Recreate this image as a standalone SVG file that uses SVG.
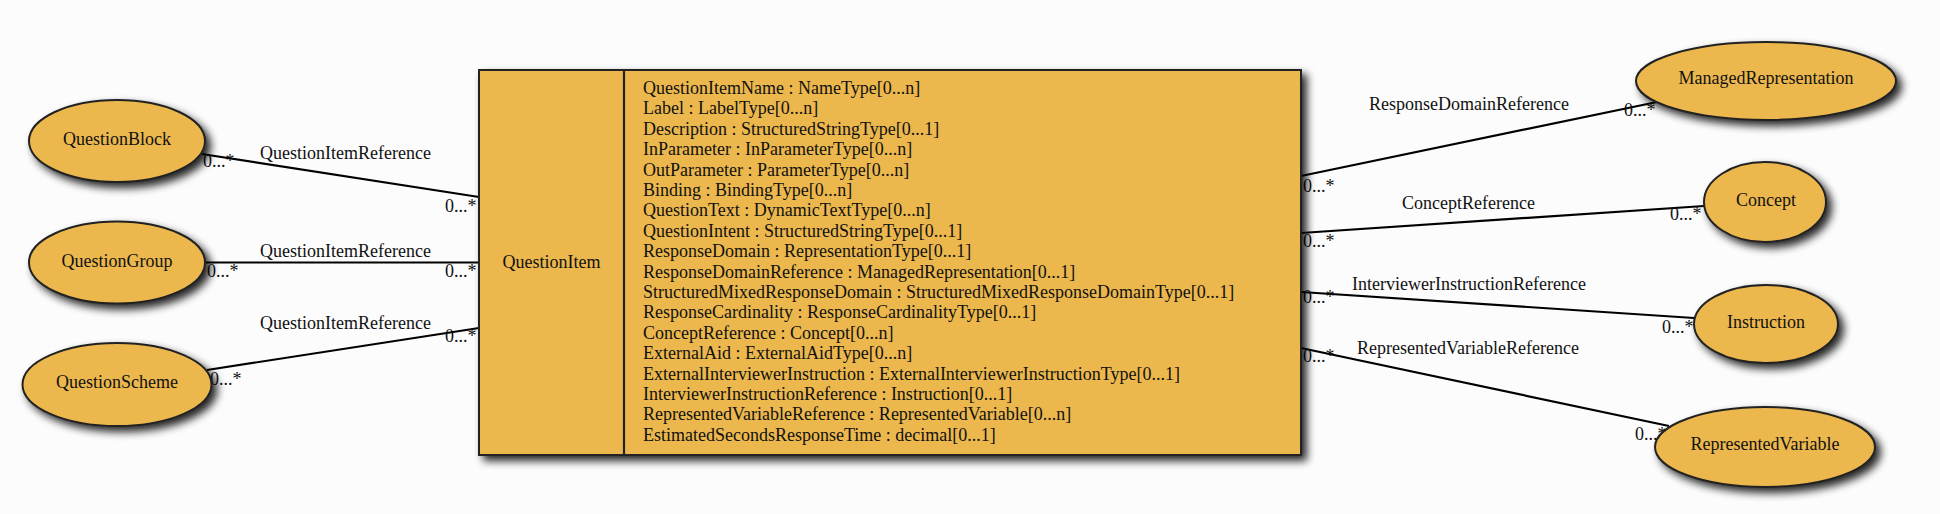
<svg xmlns="http://www.w3.org/2000/svg" width="1940" height="514" viewBox="0 0 1940 514">
<defs>
<filter id="sh" x="-20%" y="-30%" width="150%" height="170%">
<feGaussianBlur in="SourceAlpha" stdDeviation="4.5"/>
<feOffset dx="5" dy="5" result="b"/>
<feComponentTransfer><feFuncA type="linear" slope="0.85"/></feComponentTransfer>
<feMerge><feMergeNode/><feMergeNode in="SourceGraphic"/></feMerge>
</filter>
</defs>
<style>
.n{fill:#ECB84E;stroke:#222;stroke-width:2}
.t{font-family:"Liberation Serif","Times New Roman",serif;font-size:18px;fill:#111}
.c{text-anchor:middle}
.e{stroke:#000;stroke-width:2.2;fill:none}
</style>
<rect width="1940" height="514" fill="#FCFCFC"/>
<g id="connectors">
<line class="e" x1="202" y1="154" x2="479" y2="197"/>
<line class="e" x1="205" y1="262.5" x2="479" y2="262.5"/>
<line class="e" x1="207" y1="370" x2="479" y2="328"/>
<line class="e" x1="1301" y1="176" x2="1657" y2="102"/>
<line class="e" x1="1301" y1="233" x2="1704" y2="206"/>
<line class="e" x1="1301" y1="292" x2="1694" y2="318"/>
<line class="e" x1="1301" y1="348" x2="1669" y2="426"/>
<text class="t" x="260" y="159">QuestionItemReference</text>
<text class="t" x="203" y="167">0...*</text>
<text class="t" x="445" y="212">0...*</text>
<text class="t" x="260" y="257">QuestionItemReference</text>
<text class="t" x="207" y="277">0...*</text>
<text class="t" x="445" y="277">0...*</text>
<text class="t" x="260" y="329">QuestionItemReference</text>
<text class="t" x="210" y="385">0...*</text>
<text class="t" x="445" y="342">0...*</text>
<text class="t" x="1369" y="110">ResponseDomainReference</text>
<text class="t" x="1303" y="192">0...*</text>
<text class="t" x="1624" y="116">0...*</text>
<text class="t" x="1402" y="209">ConceptReference</text>
<text class="t" x="1303" y="247">0...*</text>
<text class="t" x="1670" y="220">0...*</text>
<text class="t" x="1352" y="290">InterviewerInstructionReference</text>
<text class="t" x="1303" y="303">0...*</text>
<text class="t" x="1662" y="333">0...*</text>
<text class="t" x="1357" y="354">RepresentedVariableReference</text>
<text class="t" x="1303" y="362">0...*</text>
<text class="t" x="1635" y="440">0...*</text>
</g>
<g id="QuestionBlock">
<ellipse class="n" cx="117" cy="141" rx="88" ry="41" filter="url(#sh)"/>
<text class="t c" x="117" y="145">QuestionBlock</text>
</g>
<g id="QuestionGroup">
<ellipse class="n" cx="117" cy="262.5" rx="88" ry="41" filter="url(#sh)"/>
<text class="t c" x="117" y="267">QuestionGroup</text>
</g>
<g id="QuestionScheme">
<ellipse class="n" cx="117" cy="384.5" rx="94.5" ry="41.5" filter="url(#sh)"/>
<text class="t c" x="117" y="388">QuestionScheme</text>
</g>
<g id="QuestionItem">
<rect class="n" x="479" y="70" width="822" height="385" filter="url(#sh)"/>
<line x1="624" y1="70" x2="624" y2="455" stroke="#222" stroke-width="2.2"/>
<text class="t c" x="551.5" y="268">QuestionItem</text>
<text class="t" x="643" y="94">QuestionItemName : NameType[0...n]</text>
<text class="t" x="643" y="114.4">Label : LabelType[0...n]</text>
<text class="t" x="643" y="134.8">Description : StructuredStringType[0...1]</text>
<text class="t" x="643" y="155.2">InParameter : InParameterType[0...n]</text>
<text class="t" x="643" y="175.6">OutParameter : ParameterType[0...n]</text>
<text class="t" x="643" y="196">Binding : BindingType[0...n]</text>
<text class="t" x="643" y="216.4">QuestionText : DynamicTextType[0...n]</text>
<text class="t" x="643" y="236.8">QuestionIntent : StructuredStringType[0...1]</text>
<text class="t" x="643" y="257.2">ResponseDomain : RepresentationType[0...1]</text>
<text class="t" x="643" y="277.6">ResponseDomainReference : ManagedRepresentation[0...1]</text>
<text class="t" x="643" y="298">StructuredMixedResponseDomain : StructuredMixedResponseDomainType[0...1]</text>
<text class="t" x="643" y="318.4">ResponseCardinality : ResponseCardinalityType[0...1]</text>
<text class="t" x="643" y="338.8">ConceptReference : Concept[0...n]</text>
<text class="t" x="643" y="359.2">ExternalAid : ExternalAidType[0...n]</text>
<text class="t" x="643" y="379.6">ExternalInterviewerInstruction : ExternalInterviewerInstructionType[0...1]</text>
<text class="t" x="643" y="400">InterviewerInstructionReference : Instruction[0...1]</text>
<text class="t" x="643" y="420.4">RepresentedVariableReference : RepresentedVariable[0...n]</text>
<text class="t" x="643" y="440.8">EstimatedSecondsResponseTime : decimal[0...1]</text>
</g>
<g id="ManagedRepresentation">
<ellipse class="n" cx="1766" cy="81" rx="130" ry="39" filter="url(#sh)"/>
<text class="t c" x="1766" y="84">ManagedRepresentation</text>
</g>
<g id="Concept">
<ellipse class="n" cx="1765" cy="202" rx="61" ry="40" filter="url(#sh)"/>
<text class="t c" x="1766" y="206">Concept</text>
</g>
<g id="Instruction">
<ellipse class="n" cx="1766" cy="324" rx="72" ry="39" filter="url(#sh)"/>
<text class="t c" x="1766" y="328">Instruction</text>
</g>
<g id="RepresentedVariable">
<ellipse class="n" cx="1765" cy="447" rx="110" ry="40" filter="url(#sh)"/>
<text class="t c" x="1765" y="450">RepresentedVariable</text>
</g>
</svg>
